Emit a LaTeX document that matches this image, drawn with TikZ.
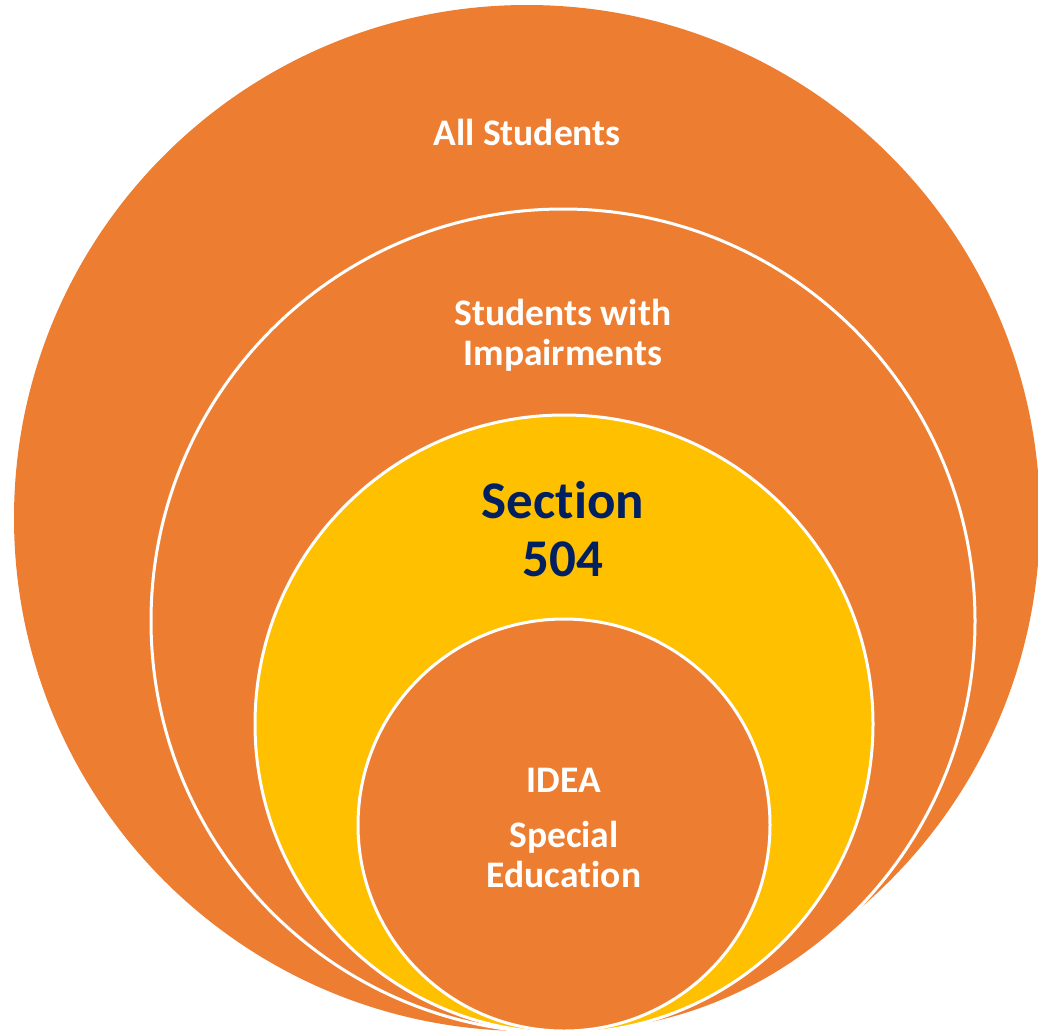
\documentclass[tikz,border=0pt]{standalone}
\usepackage{fontspec}
\setmainfont{Carlito}[Ligatures=NoCommon]
\definecolor{ringorange}{HTML}{ED7D31}
\definecolor{ringyellow}{HTML}{FFC000}
\definecolor{labelnavy}{HTML}{002060}
\tikzset{
	ringlabel/.style={inner sep=0pt, anchor=base, align=center, text=white, font=\bfseries\fontsize{37.5}{40}\selectfont},
	ringedge/.style={draw=white, line width=3pt}
}
\begin{document}
\begin{tikzpicture}[x=1pt, y=-1pt]
		%%%%% START %%%%%
		\useasboundingbox (0, 0) rectangle (1038, 1034);
		
		\fill[ringorange] (527, 518) circle (513pt);
		\draw[ringedge, fill=ringorange] (563, 621) circle (412pt);
		\draw[ringedge, fill=ringyellow] (564, 724) circle (309pt);
		\draw[ringedge, fill=ringorange] (564, 825) circle (206pt);
		
		% base anchor sits on the last line
		\node[ringlabel] (allstudents) at (527, 145) {All Students};
		\node[ringlabel] (impaired) at (563, 365) {Students with\\Impairments};
		\node[ringlabel, text=labelnavy, font=\bfseries\fontsize{53}{58}\selectfont] (sec504) at (563, 576) {Section\\504};
		\node[ringlabel] (idea) at (564, 792) {IDEA};
		\node[ringlabel] (speced) at (564, 887) {Special\\Education};
		
		%%%%% END %%%%%
	\end{tikzpicture}
\end{document}
